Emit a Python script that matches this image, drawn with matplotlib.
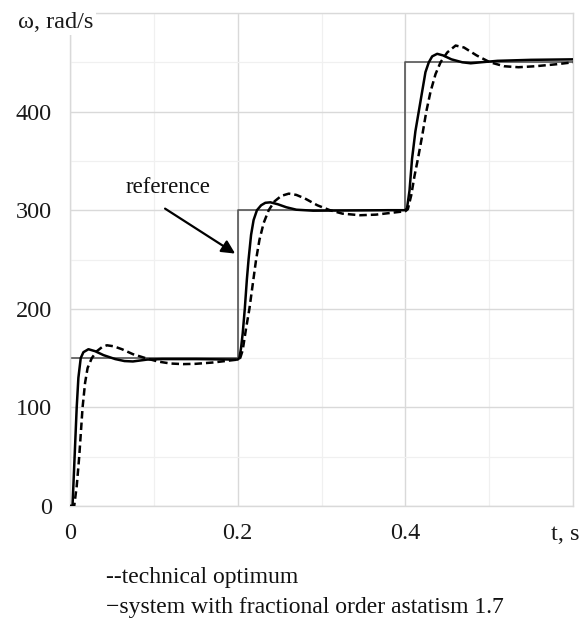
import matplotlib
matplotlib.use("Agg")
import matplotlib.pyplot as plt
from matplotlib.ticker import MultipleLocator

plt.rcParams['font.family'] = ['Liberation Serif', 'DejaVu Serif']

# reference (setpoint) steps
ref_t = [0.0, 0.0, 0.2, 0.4, 0.6]
ref_v = [0, 150, 300, 450, 450]

# system with fractional order astatism 1.7 (solid)
frac_t = [0.000, 0.003, 0.005, 0.006, 0.008, 0.010, 0.0128, 0.016, 0.022, 0.030,
          0.040, 0.054, 0.065, 0.075, 0.092, 0.110, 0.150, 0.200, 0.202, 0.204,
          0.206, 0.2085, 0.211, 0.213, 0.216, 0.219, 0.223, 0.228, 0.233, 0.239,
          0.248, 0.258, 0.270, 0.290, 0.330, 0.380, 0.400, 0.402, 0.405, 0.408,
          0.412, 0.416, 0.420, 0.424, 0.428, 0.432, 0.438, 0.445, 0.455, 0.468,
          0.478, 0.490, 0.510, 0.550, 0.600]
frac_v = [0, 0, 40, 60, 100, 130, 150, 156, 159, 157,
          153, 149, 147, 146.6, 148.5, 149, 149, 148.5, 150, 160,
          175, 200, 230, 250, 275, 290, 300, 305, 307.5, 308,
          306, 303, 300.5, 299.5, 299.7, 300, 300, 302, 320, 352,
          380, 400, 420, 440, 450, 456, 458.6, 457, 453, 450,
          449, 450, 451.5, 452.5, 453]

# technical optimum (dashed)
tech_t = [0.000, 0.005, 0.008, 0.011, 0.013, 0.015, 0.018, 0.021, 0.026, 0.032,
          0.038, 0.044, 0.052, 0.062, 0.075, 0.090, 0.105, 0.120, 0.135, 0.150,
          0.170, 0.190, 0.200, 0.203, 0.206, 0.210, 0.214, 0.218, 0.222, 0.226,
          0.231, 0.237, 0.244, 0.252, 0.261, 0.270, 0.280, 0.295, 0.310, 0.325,
          0.346, 0.365, 0.385, 0.400, 0.403, 0.407, 0.411, 0.415, 0.420, 0.425,
          0.430, 0.436, 0.442, 0.450, 0.460, 0.470, 0.485, 0.501, 0.518, 0.535,
          0.555, 0.580, 0.600]
tech_v = [0, 0, 20, 50, 75, 100, 125, 140, 150, 157,
          161, 163, 162, 159, 154, 150, 146.5, 144.5, 143.9, 144.2,
          145.5, 147.5, 148.5, 150, 158, 180, 200, 225, 250, 270,
          287, 300, 309, 314.5, 316.8, 315.5, 312, 305, 300, 296.5,
          294.9, 295.5, 297.5, 299, 301, 315, 335, 352, 375, 400,
          420, 438, 450, 460, 467, 465, 457, 450, 446, 445,
          446, 448, 450]

x_ticks = [0, 0.2, 0.4]
x_labels = ["0", "0.2", "0.4"]
y_ticks = [0, 100, 200, 300, 400]
y_labels = ["0", "100", "200", "300", "400"]

fig = plt.figure(figsize=(5.86, 6.21), dpi=100)
ax = fig.add_axes([70/586, 1-506/621, (573-70)/586, (506-13)/621])
ax.set_xlim(0, 0.6)
ax.set_ylim(0, 500)

ax.xaxis.set_major_locator(MultipleLocator(0.2))
ax.xaxis.set_minor_locator(MultipleLocator(0.1))
ax.yaxis.set_major_locator(MultipleLocator(100))
ax.yaxis.set_minor_locator(MultipleLocator(50))
ax.grid(which='major', color='#d9d9d9', linewidth=1.0)
ax.grid(which='minor', color='#f0f0f0', linewidth=0.9)
ax.set_axisbelow(True)
for s in ax.spines.values():
    s.set_color('#d9d9d9')
    s.set_linewidth(1.0)

ax.set_xticks(x_ticks)
ax.set_xticklabels(x_labels)
ax.set_yticks(y_ticks)
ax.set_yticklabels(y_labels)
ax.tick_params(which='both', length=0, labelsize=17.5, colors='#1a1a1a')
ax.tick_params(axis='y', pad=13)
ax.tick_params(axis='x', pad=12)

ax.plot(ref_t, ref_v, color='#555555', linewidth=1.2, drawstyle='steps-post', zorder=2)
ax.plot(tech_t, tech_v, color='black', linewidth=1.8, linestyle=(0, (3, 1.6)), zorder=3)
ax.plot(frac_t, frac_v, color='black', linewidth=1.8, zorder=4)

ax.text(0.117, 323, "reference", fontsize=16.5, ha='center', va='center', color='#111111')
ax.annotate("", xy=(0.197, 256), xytext=(0.1134, 301.6),
            arrowprops=dict(arrowstyle='-|>', color='black', lw=1.6,
                            mutation_scale=20, shrinkA=0, shrinkB=0))

fig.text(18/586, 1-22/621, "ω, rad/s", fontsize=17.5, ha='left', va='center',
         color='#1a1a1a', bbox=dict(facecolor='white', edgecolor='none', pad=2))
fig.text(565/586, 1-534/621, "t, s", fontsize=17.5, ha='center', va='center', color='#1a1a1a')
fig.text(106/586, 1-583/621, "--technical optimum", fontsize=17, ha='left', va='baseline', color='#111111')
fig.text(106/586, 1-613/621, "\u2212system with fractional order astatism 1.7", fontsize=17,
         ha='left', va='baseline', color='#111111')

fig.savefig("out.png", dpi=100)
